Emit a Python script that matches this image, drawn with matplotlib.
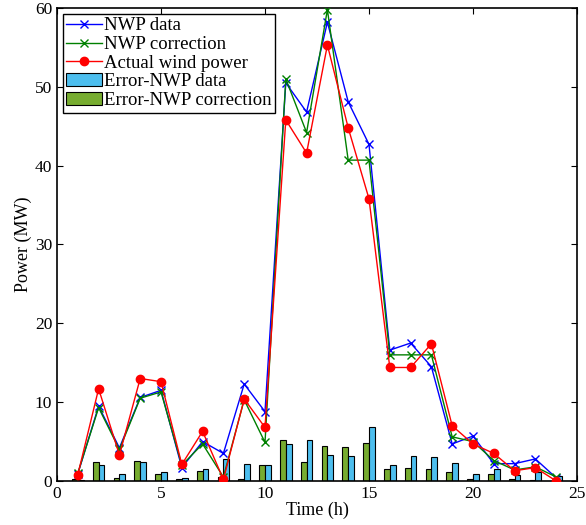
import numpy as np
import matplotlib
matplotlib.use("Agg")
import matplotlib.pyplot as plt

plt.rcParams['font.family'] = ['Liberation Serif', 'DejaVu Serif']
plt.rcParams['mathtext.fontset'] = 'stix'

# hourly data
hours = np.arange(1, 25)
nwp_data = [0.9, 9.5, 4.2, 10.6, 11.5, 1.7, 5.0, 3.5, 12.3, 8.8, 50.5, 46.8,
            58.2, 48.1, 42.7, 16.6, 17.5, 14.5, 4.7, 5.7, 2.2, 2.2, 2.8, 0.4]
nwp_corr = [1.0, 9.3, 4.0, 10.5, 11.3, 2.0, 4.7, 0.5, 10.3, 4.9, 51.0, 44.2,
            59.8, 40.7, 40.7, 16.0, 16.0, 16.0, 5.6, 5.0, 2.6, 1.4, 1.8, 0.5]
actual = [0.8, 11.7, 3.3, 13.0, 12.6, 2.1, 6.3, 0.2, 10.4, 6.8, 45.8, 41.6,
          55.3, 44.8, 35.8, 14.4, 14.4, 17.4, 7.0, 4.7, 3.5, 1.3, 1.7, 0.0]
err_nwp = [0.1, 2.0, 0.9, 2.4, 1.1, 0.4, 1.5, 2.8, 2.1, 2.0, 4.7, 5.2,
           3.3, 3.2, 6.8, 2.0, 3.2, 3.1, 2.3, 0.9, 1.5, 0.8, 1.1, 0.6]
err_corr = [0.2, 2.4, 0.4, 2.5, 0.9, 0.3, 1.3, 0.5, 0.2, 2.0, 5.2, 2.4,
            4.4, 4.3, 4.8, 1.5, 1.6, 1.5, 1.2, 0.3, 0.9, 0.2, 0.1, 0.05]

fig = plt.figure(figsize=(5.86, 5.25), dpi=100)
ax = fig.add_axes([0.0973, 0.0838, 0.8873, 0.901])

w = 0.28
b_corr = ax.bar(hours - w / 2, err_corr, w, color='#77AC30', edgecolor='black',
                linewidth=0.8, label='Error-NWP correction', zorder=2)
b_nwp = ax.bar(hours + w / 2, err_nwp, w, color='#4DBEEE', edgecolor='black',
               linewidth=0.8, label='Error-NWP data', zorder=2)

l1, = ax.plot(hours, nwp_data, color='blue', marker='x', ms=5.5, lw=1,
              label='NWP data', zorder=3)
l2, = ax.plot(hours, nwp_corr, color='green', marker='x', ms=5.5, lw=1,
              label='NWP correction', zorder=3)
l3, = ax.plot(hours, actual, color='red', marker='o', ms=6, lw=1,
              label='Actual wind power', zorder=3)

ax.set_xlim(0, 25)
ax.set_ylim(0, 60)
ax.set_xticks([0, 5, 10, 15, 20, 25])
ax.set_yticks([0, 10, 20, 30, 40, 50, 60])
ax.tick_params(direction='in', top=True, right=True, labelsize=12.5, length=4)
for s in ax.spines.values():
    s.set_linewidth(1.2)
ax.set_xlabel('Time (h)', fontsize=13, labelpad=0)
ax.set_ylabel('Power (MW)', fontsize=13, labelpad=2)

leg = ax.legend(handles=[l1, l2, l3, b_nwp, b_corr], loc='upper left',
                fontsize=13.5, fancybox=False, edgecolor='black', framealpha=1,
                borderpad=0.2, labelspacing=0.08, handlelength=1.9,
                handletextpad=0.1, borderaxespad=0.3)
leg.get_frame().set_linewidth(1.0)

fig.savefig('out.png', dpi=100)
